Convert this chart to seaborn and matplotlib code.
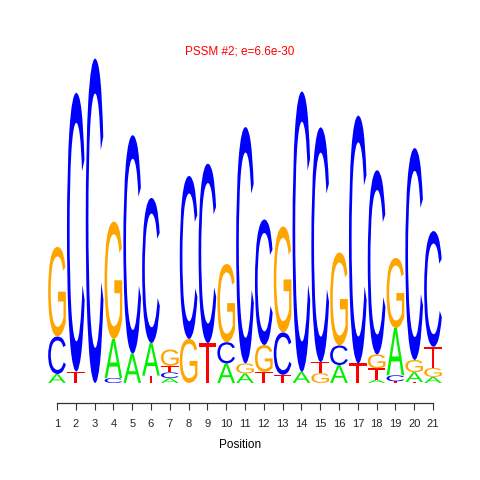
import matplotlib
matplotlib.use("Agg")
import matplotlib.pyplot as plt
import seaborn as sns
import numpy as np
from matplotlib.textpath import TextPath
from matplotlib.font_manager import FontProperties
from matplotlib.patches import PathPatch
from matplotlib.transforms import Affine2D

positions = list(range(1, 22))
A = [0.055, 0, 0, 0.24, 0.18, 0.20, 0.03, 0, 0, 0.12, 0.058, 0, 0, 0.068, 0, 0.11, 0, 0.02, 0.29, 0.06, 0.037]
C = [0.23, 1.71, 1.99, 0.03, 1.34, 0.89, 0.035, 1.00, 1.10, 0.13, 1.45, 0.77, 0.26, 1.72, 1.44, 0.12, 1.52, 1.13, 0.037, 1.30, 0.71]
G = [0.55, 0, 0, 0.72, 0, 0, 0.10, 0.27, 0, 0.48, 0.062, 0.165, 0.65, 0, 0.06, 0.57, 0, 0.085, 0.43, 0.075, 0.055]
T = [0, 0.07, 0, 0, 0, 0.045, 0.04, 0, 0.245, 0, 0, 0.068, 0.05, 0, 0.068, 0, 0.12, 0.07, 0.01, 0.006, 0.13]
title = "PSSM #2; e=6.6e-30"
xlabel = "Position"

colors = {"A": "#00F000", "C": "#0000FF", "G": "#FFA500", "T": "#FF0000"}

sns.set_theme(style="white")
plt.rcParams['font.family'] = ['Liberation Sans', 'DejaVu Sans']

fig = plt.figure(figsize=(4.8, 4.8), dpi=100)
ax = fig.add_axes([47.6 / 480, 1 - 402.5 / 480, 394.8 / 480, (402.5 - 57) / 480])

fp = FontProperties(family="Liberation Sans", weight="normal")
letter_data = {"A": A, "C": C, "G": G, "T": T}

def draw_letter(ax, letter, x, y0, h, w=0.94):
    tp = TextPath((0, 0), letter, size=1, prop=fp)
    bb = tp.get_extents()
    tr = (Affine2D().translate(-bb.x0, -bb.y0)
          .scale(w / bb.width, h / bb.height)
          .translate(x - w / 2, y0))
    path = tr.transform_path(tp)
    ax.add_patch(PathPatch(path, facecolor=colors[letter], edgecolor="none", lw=0))

for i, pos in enumerate(positions):
    items = [(letter_data[k][i], k) for k in "ACGT" if letter_data[k][i] > 0]
    items.sort()
    base = 0.0
    for h, k in items:
        draw_letter(ax, k, pos, base, h)
        base += h

ax.set_xlim(0.5, 21.5)
ax.set_ylim(-0.12, 2.0)
sns.despine(ax=ax, left=True, top=True, right=True)
ax.spines['bottom'].set_bounds(1, 21)
ax.spines['bottom'].set_color('#333333')
ax.spines['bottom'].set_linewidth(0.9)
ax.set_yticks([])
ax.set_xticks(positions)
ax.set_xticklabels([str(p) for p in positions], fontsize=8)
ax.tick_params(axis='x', direction='out', length=4.7, width=0.8, color='#333333', pad=7, bottom=True)
ax.grid(False)

fig.text(0.5, 1 - 52 / 480, title, color="red", fontsize=8.5, ha="center", va="center")
fig.text(0.5, 1 - 445 / 480, xlabel, color="black", fontsize=8.5, ha="center", va="center")

fig.savefig("out.png", dpi=100, facecolor="white")
